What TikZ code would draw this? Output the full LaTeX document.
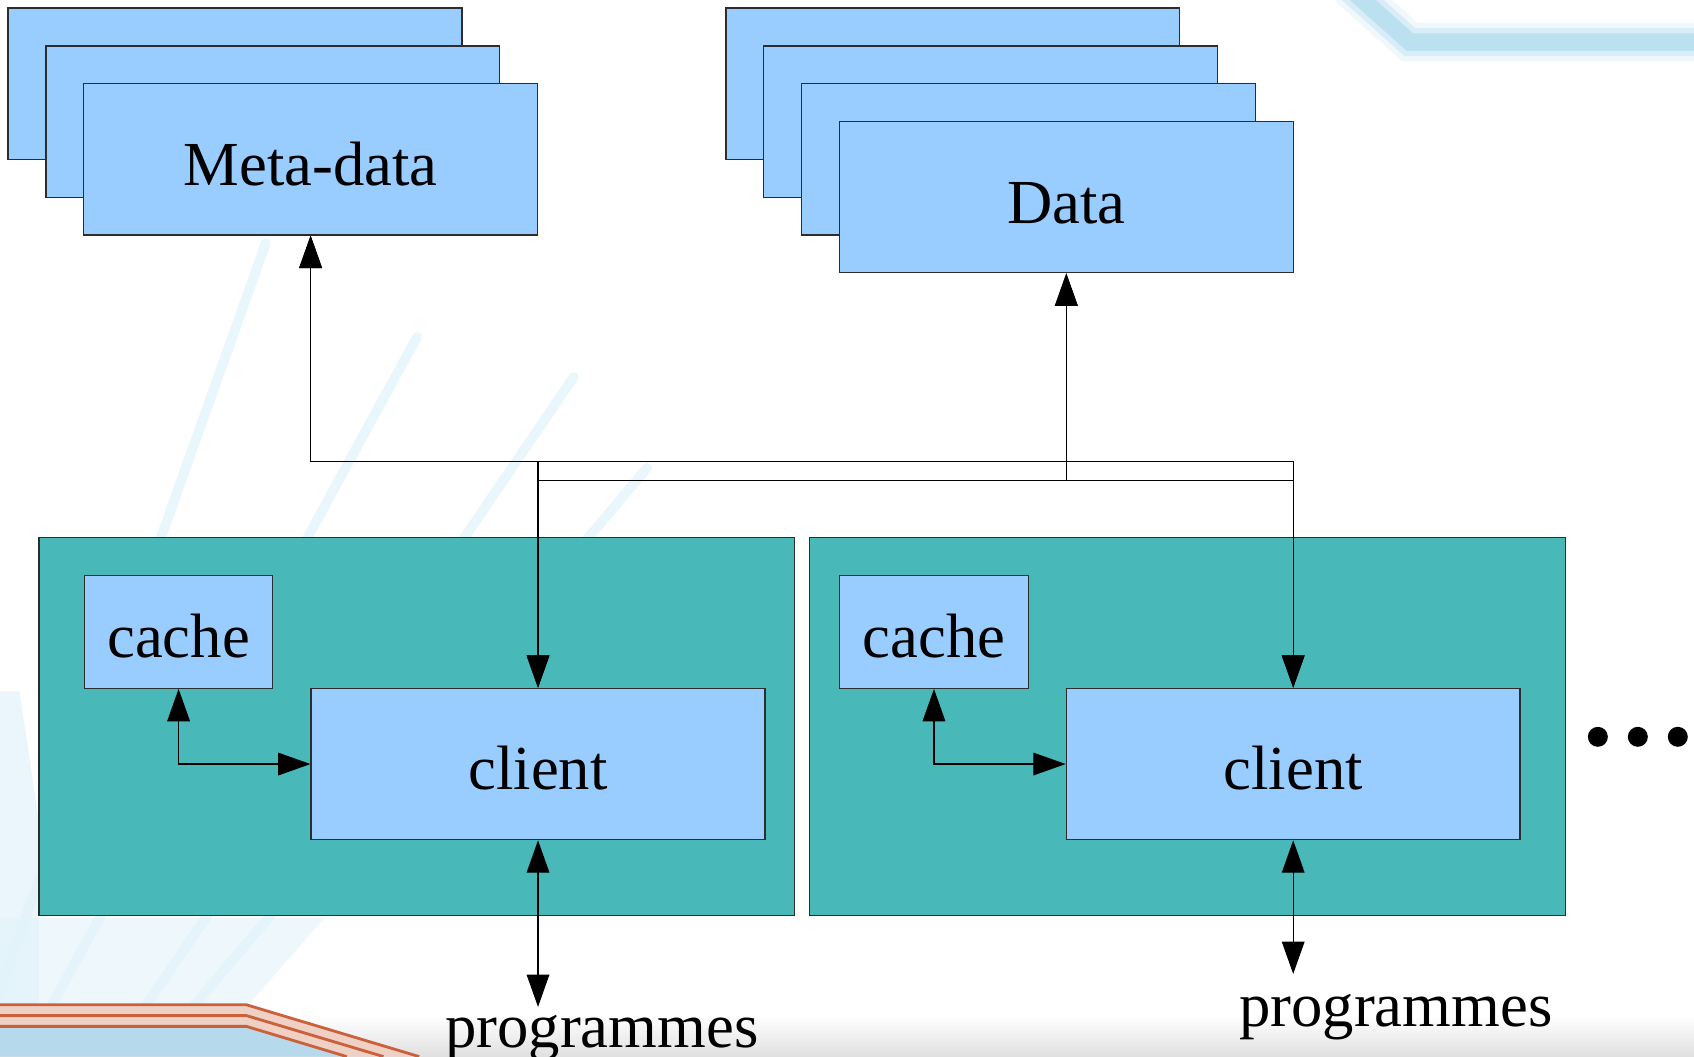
\documentclass[tikz,border=0pt]{standalone}
\usepackage{fontspec}
\setmainfont{Liberation Serif}
\usetikzlibrary{arrows.meta}
\definecolor{boxblue}{RGB}{153,204,255}
\definecolor{tealbg}{RGB}{72,184,184}
\definecolor{edge}{RGB}{45,45,45}
\definecolor{streak}{RGB}{180,222,240}
\definecolor{faint}{RGB}{226,243,250}
\definecolor{lowblue}{RGB}{182,218,236}
\definecolor{orng}{RGB}{204,96,58}
\definecolor{pale}{RGB}{238,208,196}
\definecolor{band}{RGB}{224,224,224}
\begin{document}
\begin{tikzpicture}[x=1pt,y=-1pt,
  >={Triangle[length=30pt,width=21pt]},
  bigtext/.style={font=\fontsize{58}{64}\selectfont},
  box/.style={draw=edge,line width=1.2pt,fill=boxblue,inner sep=0pt,
    minimum width=420pt,minimum height=140pt,bigtext,text height=48pt,text depth=0pt},
  smallbox/.style={box,minimum width=174.5pt,minimum height=104.5pt},
  hostbox/.style={draw=edge,line width=1.2pt,fill=tealbg,inner sep=0pt,
    minimum width=699.5pt,minimum height=350pt},
  link/.style={line width=1.1pt,draw=black,<->},
  dotnode/.style={circle,fill=black,inner sep=0pt,minimum size=18.5pt},
  label/.style={bigtext,anchor=base,inner sep=0pt},
  stripe/.style={line width=9pt,draw=faint,line cap=round,opacity=0.75}]
\useasboundingbox (0,0) rectangle (1568,978);
% ---------- background decoration ----------
\begin{scope}
\clip (0,0) rectangle (1568,978);
\fill[white] (0,0) rectangle (1568,978);
\fill[faint,opacity=0.7] (0,640) -- (18,640) -- (36,760) -- (36,978) -- (0,978) -- cycle;
\fill[faint,opacity=0.6] (0,850) -- (300,850) -- (230,930) -- (0,930) -- cycle;
\draw[stripe] (246,225) -- (-22,978);
\draw[stripe] (386,312) -- (22,978);
\draw[stripe] (531,349) -- (103,978);
\draw[stripe] (599,433) -- (140,978);
\shade[top color=white,bottom color=band] (0,940) rectangle (1568,978);
\fill[lowblue] (0,950) -- (228,950) -- (321,978) -- (0,978) -- cycle;
\fill[pale] (0,930) -- (228,930) -- (388,978) -- (321,978) -- (228,950) -- (0,950) -- cycle;
\begin{scope}[draw=orng,line width=2.6pt]
\draw (0,930) -- (228,930) -- (388,978);
\draw (0,940) -- (228,940) -- (355,978);
\draw (0,950) -- (228,950) -- (321,978);
\end{scope}
\draw[streak,line width=36pt,opacity=0.2] (1248,-12) -- (1305,39) -- (1600,39);
\draw[streak,line width=26pt,opacity=0.4] (1248,-12) -- (1305,39) -- (1600,39);
\draw[streak,line width=16pt,opacity=0.8] (1248,-12) -- (1305,39) -- (1600,39);
\end{scope}
% ---------- servers ----------
\node[box] (meta3) at (217.5,77.5) {};
\node[box] (meta2) at (252.5,112.5) {};
\node[box] (meta) at (287.5,147.5) {Meta-data};
\node[box] (data4) at (882,77.5) {};
\node[box] (data3) at (917,112.5) {};
\node[box] (data2) at (952,147.5) {};
\node[box] (data) at (987,182.5) {Data};
% ---------- client hosts ----------
\node[hostbox] (hostA) at (385.8,672.4) {};
\node[hostbox] (hostB) at (1099,672.4) {};
\node[smallbox] (cache1) at (165.3,584.8) {cache};
\node[smallbox] (cache2) at (864.5,584.8) {cache};
\node[box] (client1) at (498,707.2) {client};
\node[box] (client2) at (1197,707.2) {client};
\node[dotnode] (dot1) at (1479,682) {};
\node[dotnode] (dot2) at (1516,682) {};
\node[dotnode] (dot3) at (1553,682) {};
% ---------- program labels ----------
\node[label] (prog1) at (557,970) {programmes};
\node[label] (prog2) at (1292,950) {programmes};
\coordinate (tip1) at (498,932);
\coordinate (tip2) at (1197,901.5);
% ---------- buses ----------
\coordinate (busA) at (0,427);
\coordinate (busB) at (0,445);
\draw[link] (client1.north) -- (client1.north |- busA) -| (meta.south);
\draw[link] (client2.north) -- (client2.north |- busA) -| (meta.south);
\draw[link] (client1.north) -- (client1.north |- busB) -| (data.south);
\draw[link] (client2.north) -- (client2.north |- busB) -| (data.south);
% ---------- local links ----------
\draw[link] (cache1.south) |- (client1.west);
\draw[link] (cache2.south) |- (client2.west);
\draw[link] (client1.south) -- (tip1);
\draw[link] (client2.south) -- (tip2);
\end{tikzpicture}
\end{document}
